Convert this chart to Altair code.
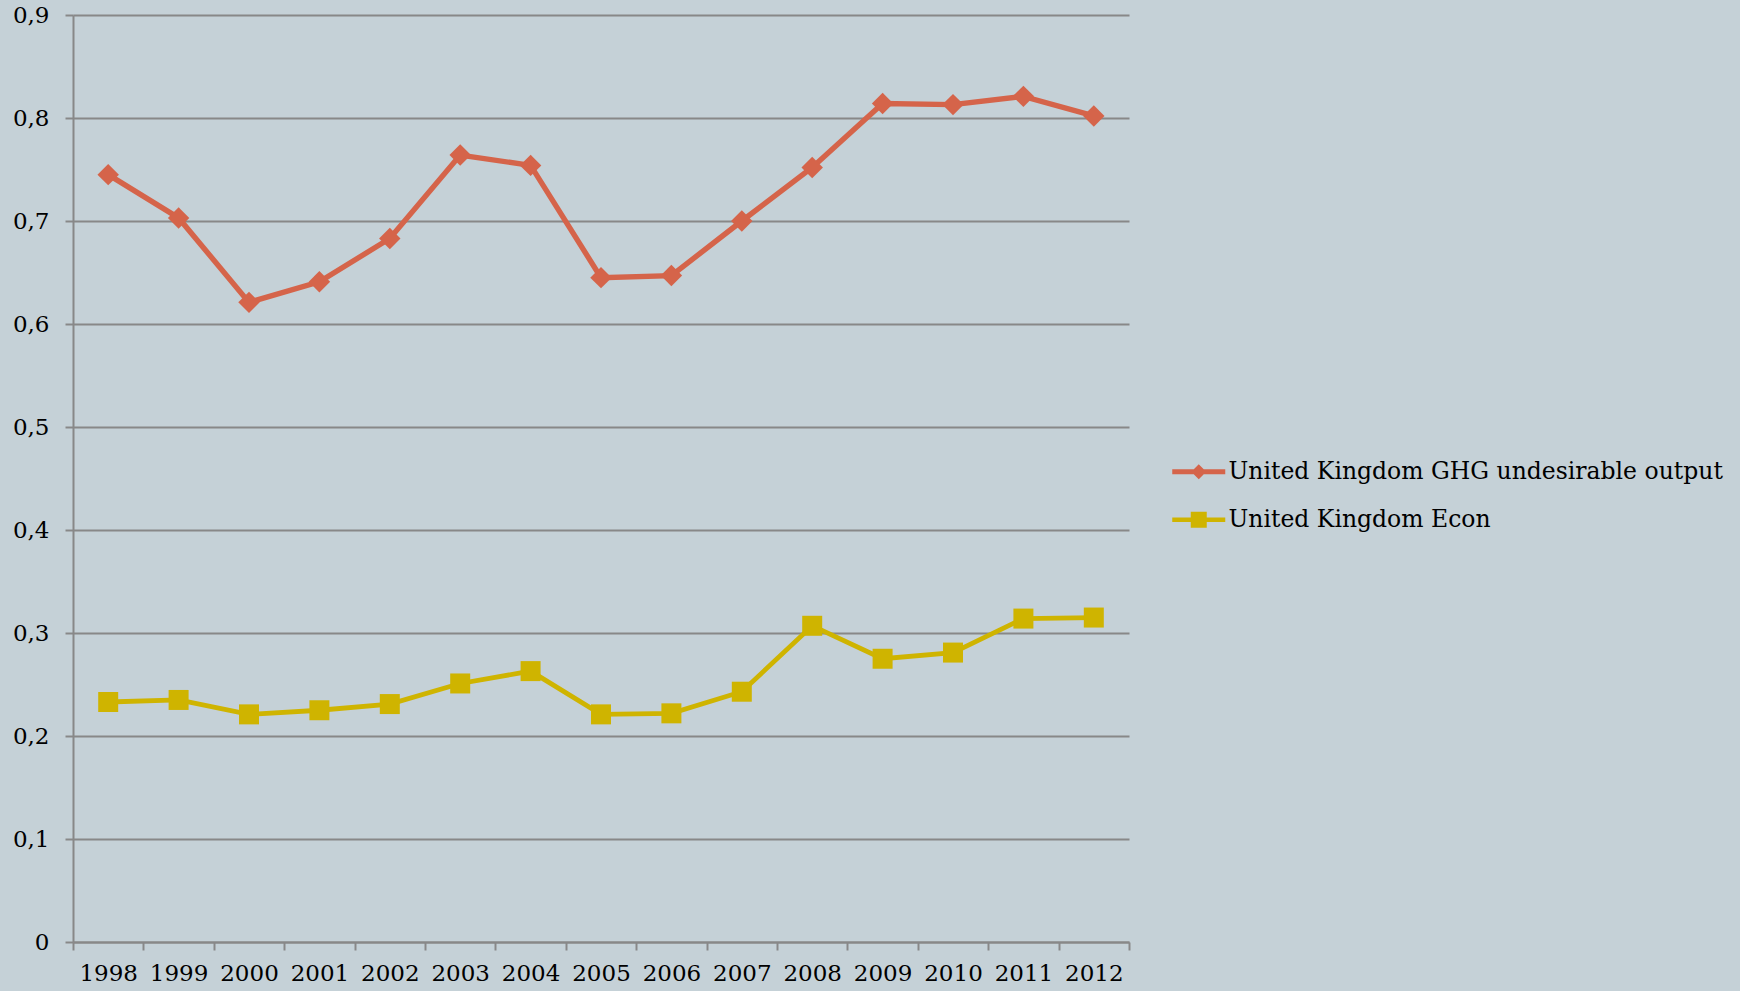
import altair as alt
import pandas as pd

years = ["1998", "1999", "2000", "2001", "2002", "2003", "2004", "2005",
         "2006", "2007", "2008", "2009", "2010", "2011", "2012"]
ghg = [0.745, 0.703, 0.621, 0.641, 0.683, 0.764, 0.754, 0.645,
       0.647, 0.700, 0.752, 0.814, 0.813, 0.821, 0.802]
econ = [0.233, 0.235, 0.221, 0.225, 0.231, 0.251, 0.263, 0.221,
        0.222, 0.243, 0.307, 0.275, 0.281, 0.314, 0.315]
series_names = ["United Kingdom GHG undesirable output", "United Kingdom Econ"]
y_ticks = [0, 0.1, 0.2, 0.3, 0.4, 0.5, 0.6, 0.7, 0.8, 0.9]

colors = ["#D5644A", "#CFB400"]
marker_shapes = ["diamond", "square"]
marker_sizes = [460, 400]
line_widths = [5.4, 4.8]
legend_paths = [
    "M-2.65,-0.26H2.65V0.26H-2.65Z M-0.75,0L0,-0.75L0.75,0L0,0.75Z",
    "M-2.65,-0.23H2.65V0.23H-2.65Z M-0.8,-0.8H0.8V0.8H-0.8Z",
]

rows = []
for name, vals in zip(series_names, [ghg, econ]):
    for yr, v in zip(years, vals):
        rows.append({"year": yr, "series": name, "value": v})
df = pd.DataFrame(rows)

FONT = "DejaVu Serif"
GRID = "#888888"
BG = "#C5D1D7"

x_enc = alt.X(
    "year:O",
    sort=years,
    bandPosition=0.5,
    scale=alt.Scale(type="band", domain=years, paddingInner=0, paddingOuter=0),
    axis=alt.Axis(title=None, tickBand="extent", grid=False, labelAngle=0,
                  labelOverlap=False, labelPadding=12, tickSize=8),
)
y_enc = alt.Y(
    "value:Q",
    scale=alt.Scale(domain=[0, 0.9], nice=False, zero=True),
    axis=alt.Axis(title=None, values=y_ticks, grid=True, tickSize=8,
                  labelPadding=16,
                  labelExpr="replace(format(datum.value, '.1~f'), '.', ',')"),
)

base = alt.Chart(df)

layers = []
for name, col, lw in zip(series_names, colors, line_widths):
    layers.append(
        base.transform_filter(alt.datum.series == name)
        .mark_line(color=col, strokeWidth=lw)
        .encode(x=x_enc, y=y_enc)
    )
for name, col, shp, sz in zip(series_names, colors, marker_shapes, marker_sizes):
    layers.append(
        base.transform_filter(alt.datum.series == name)
        .mark_point(shape=shp, filled=True, size=sz, opacity=1, color=col)
        .encode(x=x_enc, y=y_enc)
    )

legend_layer = base.mark_point(filled=True, opacity=0, size=400).encode(
    x=x_enc, y=y_enc,
    color=alt.Color("series:N", scale=alt.Scale(domain=series_names, range=colors),
                    legend=alt.Legend(title=None)),
    shape=alt.Shape("series:N", scale=alt.Scale(domain=series_names, range=legend_paths),
                    legend=alt.Legend(title=None)),
)
layers.append(legend_layer)

chart = alt.layer(*layers).properties(
    width=1056,
    height=927,
    background=BG,
    autosize=alt.AutoSizeParams(type="none"),
    padding={"left": 73, "top": 15, "right": 611, "bottom": 49},
).configure_view(
    stroke=None,
).configure_axis(
    labelFont=FONT,
    labelFontSize=23,
    labelColor="#000000",
    domainColor=GRID,
    domainWidth=2,
    tickColor=GRID,
    tickWidth=2,
    gridColor=GRID,
    gridWidth=2,
).configure_legend(
    orient="none",
    legendX=1114,
    legendY=445,
    padding=0,
    labelFont=FONT,
    labelFontSize=23.5,
    labelColor="#000000",
    labelLimit=1000,
    labelOffset=18,
    rowPadding=23,
    symbolSize=400,
    symbolStrokeWidth=0,
    symbolOpacity=1,
)

chart.save("out.html", embed_options={"renderer": "svg", "actions": False})
